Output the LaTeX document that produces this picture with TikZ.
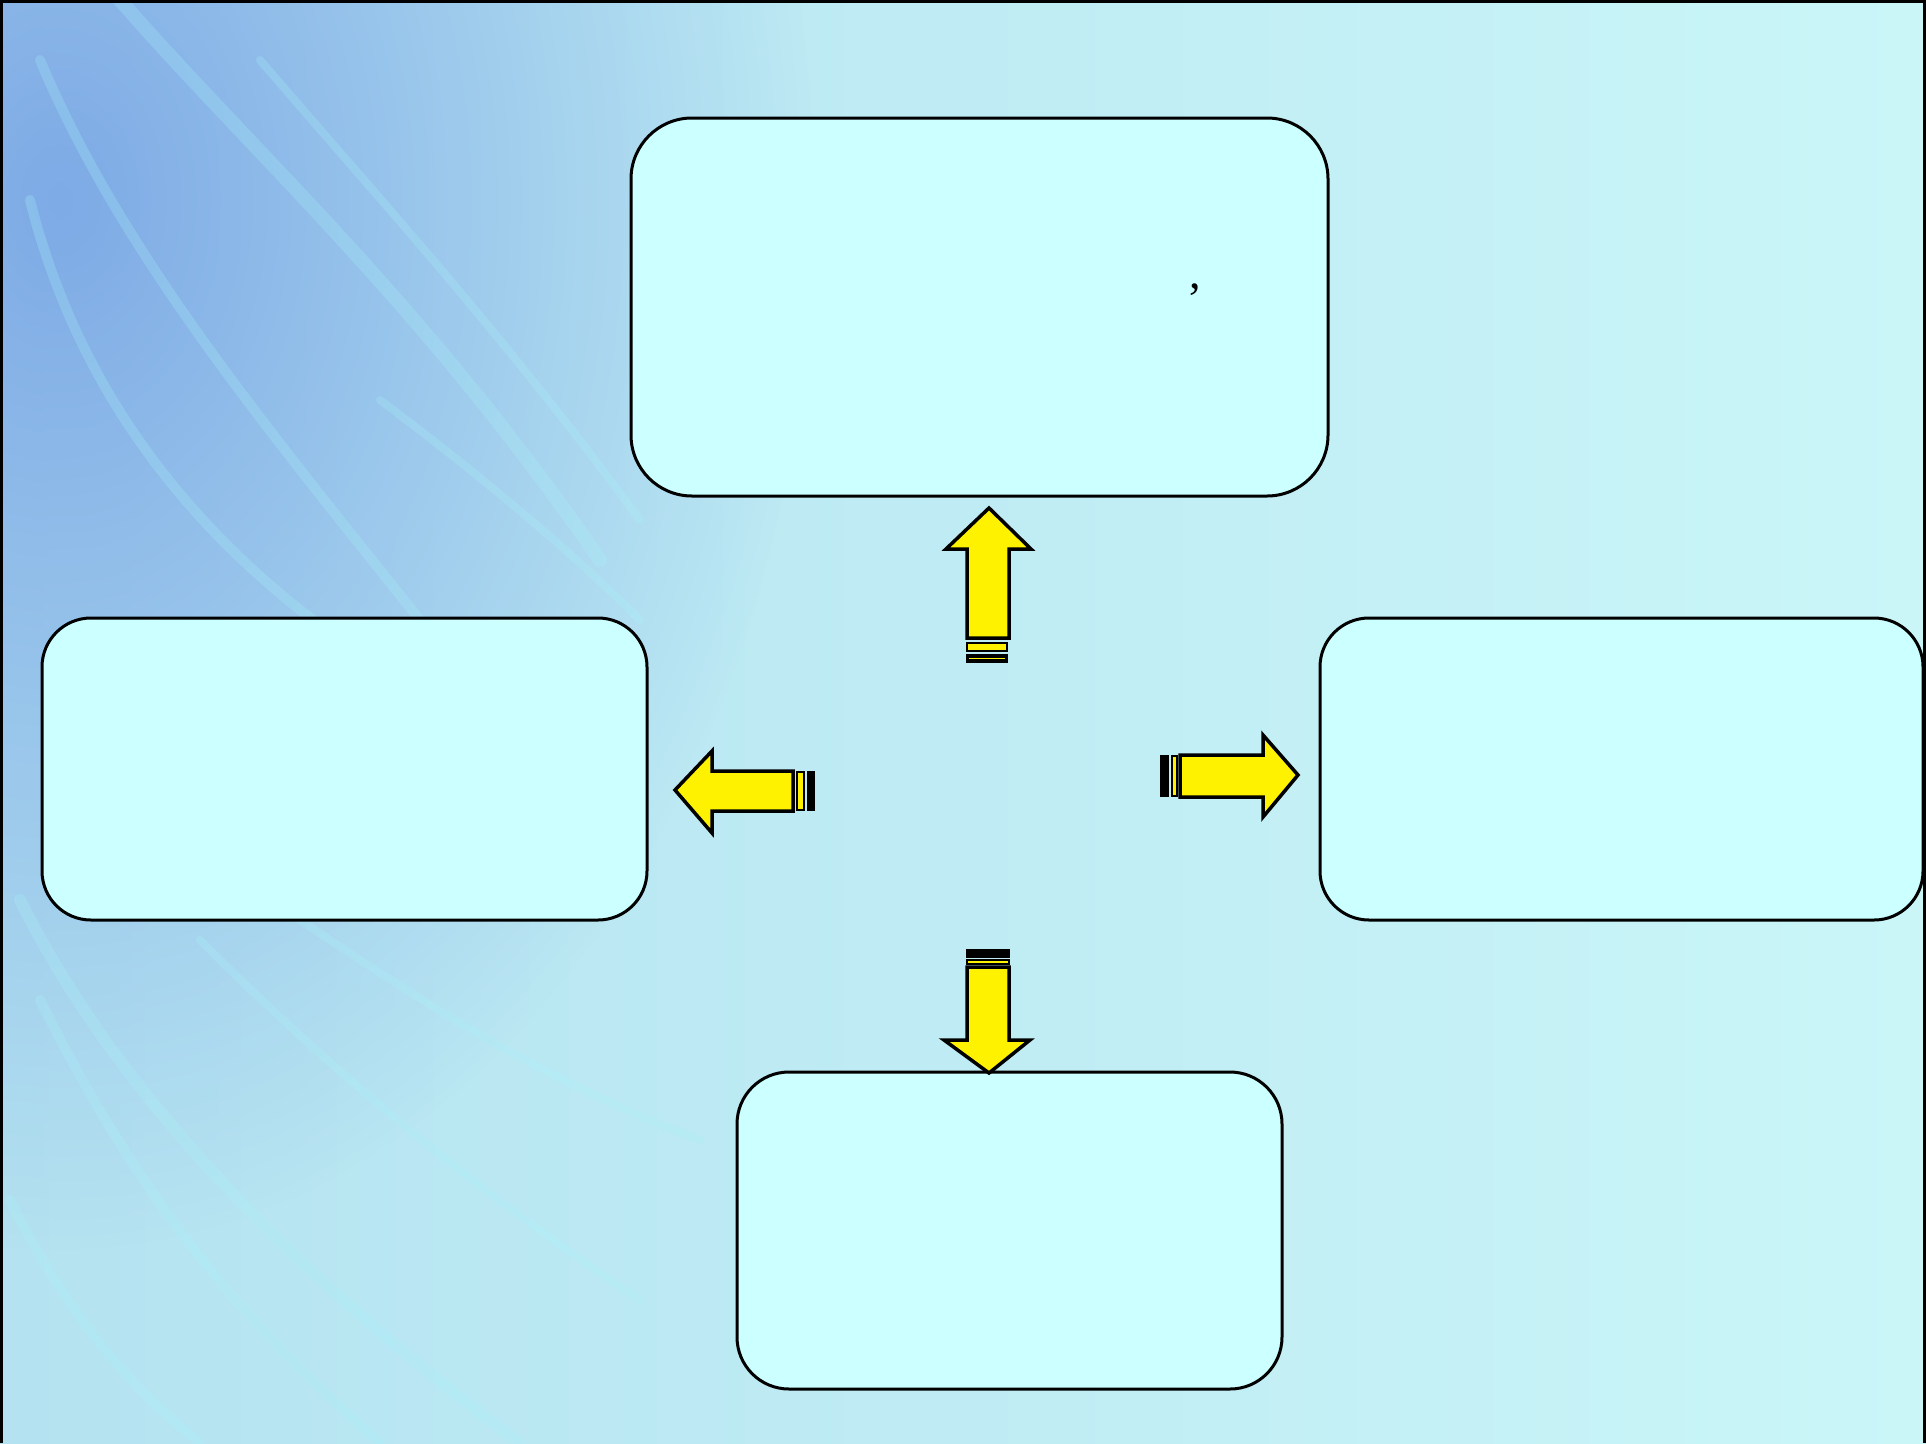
\documentclass[tikz,border=0pt]{standalone}
\usepackage{fontspec}
\setmainfont{Liberation Serif}
\usetikzlibrary{fadings}
\tikzfading[name=blobfade, inner color=transparent!0, outer color=transparent!100]
\definecolor{bgleft}{HTML}{B4E2F0}
\definecolor{bgright}{HTML}{CAF6F8}
\definecolor{bgblue}{HTML}{7EAAE6}
\definecolor{boxfill}{HTML}{CCFFFF}
\definecolor{streak}{HTML}{A8F4FA}
\begin{document}
\begin{tikzpicture}[x=1pt,y=-1pt,
  box/.style={draw=black, line width=3, fill=boxfill, rounded corners=#1, inner sep=0pt},
  blockarrow/.style={draw=black, line width=3.5, line join=miter, fill=yellow},
  baryellow/.style={draw=black, line width=2, fill=yellow},
  barblack/.style={draw=black, line width=2, fill=black},
  swirl/.style={draw=streak, line width=#1, opacity=0.25, line cap=round}]
\useasboundingbox (0,0) rectangle (1926,1443);
% background
\shade[shading angle=110, left color=bgleft, right color=bgright] (0,0) rectangle (1926,1443);
\begin{scope}
  \clip (0,0) rectangle (1926,1443);
  \fill[bgblue, path fading=blobfade] (60,200) ellipse (760 and 1050);
  % swirls
  \draw[swirl=14] (120,0) .. controls (260,160) and (420,300) .. (600,560);
  \draw[swirl=10] (40,60) .. controls (120,250) and (260,420) .. (420,620);
  \draw[swirl=8] (260,60) .. controls (380,200) and (500,330) .. (640,520);
  \draw[swirl=10] (30,200) .. controls (80,400) and (200,540) .. (340,640);
  \draw[swirl=8] (380,400) .. controls (460,460) and (560,540) .. (640,620);
  \draw[swirl=12] (20,900) .. controls (120,1100) and (300,1280) .. (520,1443);
  \draw[swirl=10] (40,1000) .. controls (140,1200) and (240,1320) .. (380,1443);
  \draw[swirl=8] (200,940) .. controls (320,1060) and (460,1180) .. (640,1300);
  \draw[swirl=8] (300,920) .. controls (420,1000) and (540,1080) .. (700,1140);
  \draw[swirl=10] (10,1200) .. controls (60,1300) and (120,1380) .. (200,1443);
\end{scope}
% frame
\draw[black, line width=3] (1.5,1443) -- (1.5,1.5) -- (1924.5,1.5) -- (1924.5,1443);
% boxes
\node[box=61, minimum width=697, minimum height=378] (topbox) at (979.5,307) {};
\node[box=49, minimum width=605, minimum height=302] (leftbox) at (344.5,769) {};
\node[box=49, minimum width=603, minimum height=302] (rightbox) at (1621.5,769) {};
\node[box=52, minimum width=545, minimum height=317] (bottombox) at (1009.5,1230.5) {};
\node[font=\fontsize{46}{46}\selectfont, inner sep=0pt] (comma) at (1195,290) {,};
% up arrow
\draw[blockarrow] (967,638) -- (967,549) -- (946,549) -- (989,508) -- (1031,549) -- (1009,549) -- (1009,638) -- cycle;
\draw[baryellow] (967,643) rectangle (1007,651);
\draw[barblack] (967,655) rectangle (1007,662);
\draw[yellow, line width=1.2] (969,658.5) -- (1005,658.5);
% left arrow
\draw[blockarrow] (793,771) -- (712,771) -- (712,751) -- (675,790) -- (712,833) -- (712,811) -- (793,811) -- cycle;
\draw[baryellow] (797,772) rectangle (804,810);
\draw[barblack] (808,772) rectangle (814,810);
% right arrow
\draw[blockarrow] (1180,755) -- (1263,755) -- (1263,735) -- (1298,775) -- (1263,817) -- (1263,797) -- (1180,797) -- cycle;
\draw[barblack] (1161,756) rectangle (1168,796);
\draw[baryellow] (1172,756) rectangle (1177,796);
% down arrow
\draw[blockarrow] (967,967) -- (967,1040) -- (944,1040) -- (989,1073) -- (1030,1040) -- (1009,1040) -- (1009,967) -- cycle;
\draw[barblack] (967,950) rectangle (1009,957);
\draw[baryellow] (967,960) rectangle (1009,964);
\end{tikzpicture}
\end{document}
